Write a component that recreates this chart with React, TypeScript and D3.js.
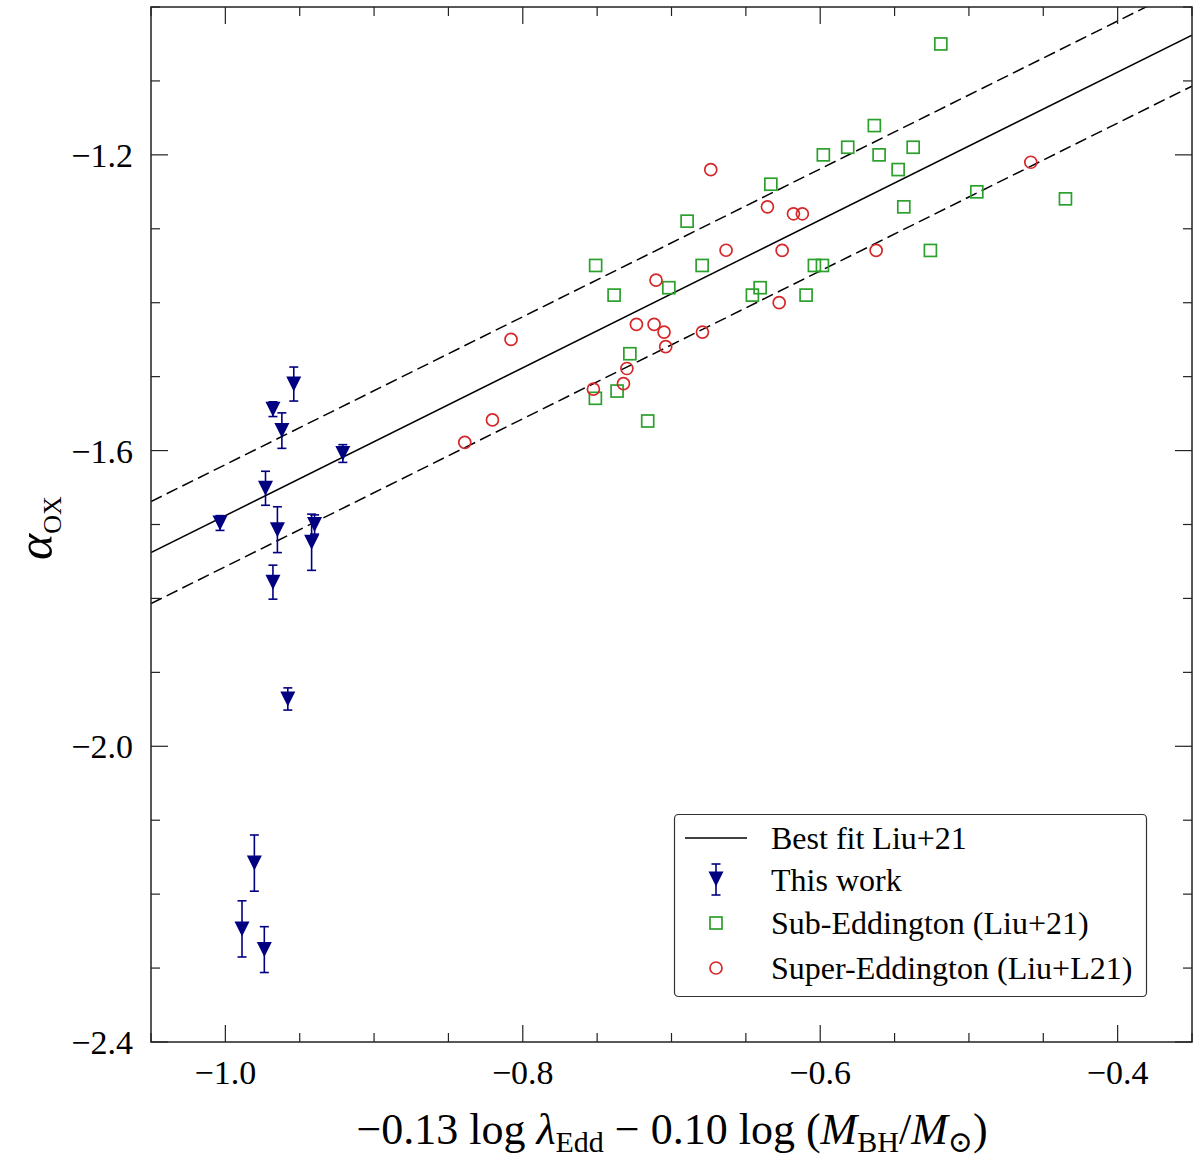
import { useEffect, useRef } from "react";
import * as d3 from "d3";

// "This work" (upper limits with error bars)
const workX = [-0.954, -0.968, -0.962, -0.921, -0.973, -1.0036, -0.965, -0.940, -0.942, -0.968, -0.958, -0.9805, -0.9888, -0.9738];
const workY = [-1.510, -1.544, -1.573, -1.604, -1.651, -1.698, -1.707, -1.700, -1.724, -1.778, -1.936, -2.158, -2.247, -2.275];
const workErr = [0.023, 0.010, 0.024, 0.012, 0.023, 0.010, 0.031, 0.013, 0.038, 0.023, 0.015, 0.038, 0.038, 0.031];

// Sub-Eddington (Liu+21)
const subX = [-0.5189, -0.5636, -0.5815, -0.5375, -0.5979, -0.5604, -0.5476, -0.6332, -0.4351, -0.5438, -0.4947, -0.5259, -0.6039, -0.5985, -0.6404, -0.6456, -0.6095, -0.6895, -0.751, -0.6794, -0.7386, -0.7018, -0.728, -0.7366, -0.7512, -0.716];
const subY = [-1.050, -1.1604, -1.1897, -1.1897, -1.200, -1.200, -1.2199, -1.2397, -1.2595, -1.2703, -1.250, -1.3293, -1.3496, -1.3496, -1.3797, -1.3897, -1.3897, -1.2897, -1.3496, -1.3496, -1.3897, -1.3797, -1.469, -1.5195, -1.5293, -1.560];

// Super-Eddington (Liu+L21)
const superX = [-0.6736, -0.6355, -0.618, -0.612, -0.6633, -0.6256, -0.5624, -0.4584, -0.7104, -0.6276, -0.8079, -0.7236, -0.7117, -0.705, -0.6792, -0.7039, -0.730, -0.7323, -0.7525, -0.8204, -0.839];
const superY = [-1.220, -1.2703, -1.2797, -1.2797, -1.329, -1.3293, -1.3293, -1.210, -1.3695, -1.400, -1.4496, -1.4293, -1.4293, -1.4397, -1.4397, -1.4595, -1.489, -1.5095, -1.517, -1.5586, -1.589];

// Best fit Liu+21: alpha_ox = slope * x + intercept, dashed = +/- scatter
const fitSlope = 1.0;
const fitIntercept = -0.688;
const fitScatter = 0.069;

const xMajor = [-1.0, -0.8, -0.6, -0.4];
const yMajor = [-2.4, -2.0, -1.6, -1.2];
const legendLabels = ["Best fit Liu+21", "This work", "Sub-Eddington (Liu+21)", "Super-Eddington (Liu+L21)"];

const W = 1200;
const H = 1168;
const FONT = "'Liberation Serif', 'DejaVu Serif', serif";
const NAVY = "#000080";
const GREEN = "#2ca02c";
const RED = "#d62728";

export default function App() {
  const svgRef = useRef<SVGSVGElement>(null);

  useEffect(() => {
    if (!svgRef.current) return;
    document.body.style.margin = "0";
    const svg = d3.select(svgRef.current);
    svg.selectAll("*").remove();

    const left = 151, right = 1192, top = 7, bottom = 1042;
    const x = d3.scaleLinear().domain([-1.05, -0.35]).range([left, right]);
    const y = d3.scaleLinear().domain([-2.4, -1.0]).range([bottom, top]);

    svg.append("rect").attr("width", W).attr("height", H).attr("fill", "#fff");

    const defs = svg.append("defs");
    defs.append("clipPath").attr("id", "plot-clip")
      .append("rect").attr("x", left).attr("y", top).attr("width", right - left).attr("height", bottom - top);

    const plot = svg.append("g").attr("clip-path", "url(#plot-clip)");

    // fit lines
    const xs = [-1.05, -0.35];
    const line = d3.line<number>().x((d) => x(d));
    [0, fitScatter, -fitScatter].forEach((off) => {
      plot.append("path")
        .attr("d", line.y((d) => y(fitSlope * d + fitIntercept + off))(xs) as string)
        .attr("fill", "none")
        .attr("stroke", "#000")
        .attr("stroke-width", 1.5)
        .attr("stroke-dasharray", off === 0 ? null : "12,5.5");
    });

    // sub-Eddington squares
    const sq = 12;
    plot.selectAll(".sub")
      .data(subX.map((v, i) => [v, subY[i]]))
      .enter()
      .append("rect")
      .attr("x", (d) => x(d[0]) - sq / 2)
      .attr("y", (d) => y(d[1]) - sq / 2)
      .attr("width", sq)
      .attr("height", sq)
      .attr("fill", "none")
      .attr("stroke", GREEN)
      .attr("stroke-width", 1.7);

    // super-Eddington circles
    plot.selectAll(".sup")
      .data(superX.map((v, i) => [v, superY[i]]))
      .enter()
      .append("circle")
      .attr("cx", (d) => x(d[0]))
      .attr("cy", (d) => y(d[1]))
      .attr("r", 6)
      .attr("fill", "none")
      .attr("stroke", RED)
      .attr("stroke-width", 1.7);

    // this work: error bars + down triangles
    const tri = (cx: number, cy: number, s: number) =>
      `M${cx - s},${cy - s}L${cx + s},${cy - s}L${cx},${cy + s}Z`;
    const errBar = (g: any, cx: number, y0: number, y1: number) => {
      g.append("line").attr("x1", cx).attr("x2", cx).attr("y1", y0).attr("y2", y1)
        .attr("stroke", NAVY).attr("stroke-width", 1.6);
      [y0, y1].forEach((yy) =>
        g.append("line").attr("x1", cx - 4.5).attr("x2", cx + 4.5).attr("y1", yy).attr("y2", yy)
          .attr("stroke", NAVY).attr("stroke-width", 1.6));
    };
    const work = plot.append("g");
    workX.forEach((v, i) => {
      errBar(work, x(v), y(workY[i] + workErr[i]), y(workY[i] - workErr[i]));
    });
    workX.forEach((v, i) => {
      work.append("path").attr("d", tri(x(v), y(workY[i]), 7.5)).attr("fill", NAVY);
    });

    // frame
    svg.append("rect")
      .attr("x", left).attr("y", top).attr("width", right - left).attr("height", bottom - top)
      .attr("fill", "none").attr("stroke", "#222").attr("stroke-width", 1.5);

    // ticks (inward, all four sides)
    const tickG = svg.append("g").attr("stroke", "#222").attr("stroke-width", 1.2);
    const xMinor = d3.range(-1.05, -0.349, 0.05).filter((t) => !xMajor.some((m) => Math.abs(m - t) < 1e-6));
    const yMinor = d3.range(-2.4, -0.999, 0.1).filter((t) => !yMajor.some((m) => Math.abs(m - t) < 1e-6));
    const xt = [...xMajor.map((t) => [t, 17]), ...xMinor.map((t) => [t, 9])];
    const yt = [...yMajor.map((t) => [t, 17]), ...yMinor.map((t) => [t, 9])];
    xt.forEach(([t, len]) => {
      tickG.append("line").attr("x1", x(t)).attr("x2", x(t)).attr("y1", bottom).attr("y2", bottom - len);
      tickG.append("line").attr("x1", x(t)).attr("x2", x(t)).attr("y1", top).attr("y2", top + len);
    });
    yt.forEach(([t, len]) => {
      tickG.append("line").attr("x1", left).attr("x2", left + len).attr("y1", y(t)).attr("y2", y(t));
      tickG.append("line").attr("x1", right).attr("x2", right - len).attr("y1", y(t)).attr("y2", y(t));
    });

    const fmt = (v: number) => (v < 0 ? "\u2212" : "") + Math.abs(v).toFixed(1);
    svg.append("g").selectAll("text").data(xMajor).enter().append("text")
      .attr("x", (d) => x(d)).attr("y", 1084)
      .attr("text-anchor", "middle")
      .attr("font-family", FONT).attr("font-size", 34)
      .text(fmt);
    svg.append("g").selectAll("text").data(yMajor).enter().append("text")
      .attr("x", 133).attr("y", (d) => y(d) + 12)
      .attr("text-anchor", "end")
      .attr("font-family", FONT).attr("font-size", 34)
      .text(fmt);

    // x label
    const xl = svg.append("text")
      .attr("x", 672).attr("y", 1144)
      .attr("text-anchor", "middle")
      .attr("font-family", FONT).attr("font-size", 44);
    xl.append("tspan").text("\u22120.13 log ");
    xl.append("tspan").attr("font-style", "italic").text("\u03bb");
    xl.append("tspan").attr("font-size", 30).attr("dy", 8).text("Edd");
    xl.append("tspan").attr("dy", -8).text(" \u2212 0.10 log (");
    xl.append("tspan").attr("font-style", "italic").text("M");
    xl.append("tspan").attr("font-size", 30).attr("dy", 8).text("BH");
    xl.append("tspan").attr("dy", -8).text("/");
    xl.append("tspan").attr("font-style", "italic").text("M");
    xl.append("tspan").attr("font-size", 30).attr("dy", 8).text("\u2299");
    xl.append("tspan").attr("dy", -8).text(")");

    // y label
    const yl = svg.append("text")
      .attr("transform", "translate(52,528) rotate(-90)")
      .attr("text-anchor", "middle")
      .attr("font-family", FONT).attr("font-size", 50);
    yl.append("tspan").attr("font-style", "italic").text("\u03b1");
    yl.append("tspan").attr("font-size", 26).attr("dy", 9).text("OX");

    // legend
    const lg = svg.append("g");
    lg.append("rect")
      .attr("x", 674.5).attr("y", 814.5).attr("width", 472).attr("height", 182).attr("rx", 4)
      .attr("fill", "#fff").attr("stroke", "#333").attr("stroke-width", 1.2);
    const rowY = [838, 880, 923, 968];
    const hx = 716;
    lg.append("line").attr("x1", 685).attr("x2", 747).attr("y1", rowY[0]).attr("y2", rowY[0])
      .attr("stroke", "#000").attr("stroke-width", 1.5);
    errBar(lg, hx, rowY[1] - 16, rowY[1] + 15);
    lg.append("path").attr("d", tri(hx, rowY[1] - 1, 7.5)).attr("fill", NAVY);
    lg.append("rect").attr("x", hx - sq / 2).attr("y", rowY[2] - sq / 2).attr("width", sq).attr("height", sq)
      .attr("fill", "none").attr("stroke", GREEN).attr("stroke-width", 1.7);
    lg.append("circle").attr("cx", hx).attr("cy", rowY[3]).attr("r", 6)
      .attr("fill", "none").attr("stroke", RED).attr("stroke-width", 1.7);
    lg.selectAll(".lt").data(legendLabels).enter().append("text")
      .attr("x", 771).attr("y", (d, i) => rowY[i] + 11)
      .attr("font-family", FONT).attr("font-size", 32)
      .text((d) => d);
  }, []);

  return <svg ref={svgRef} width={W} height={H} style={{ display: "block" }} />;
}
